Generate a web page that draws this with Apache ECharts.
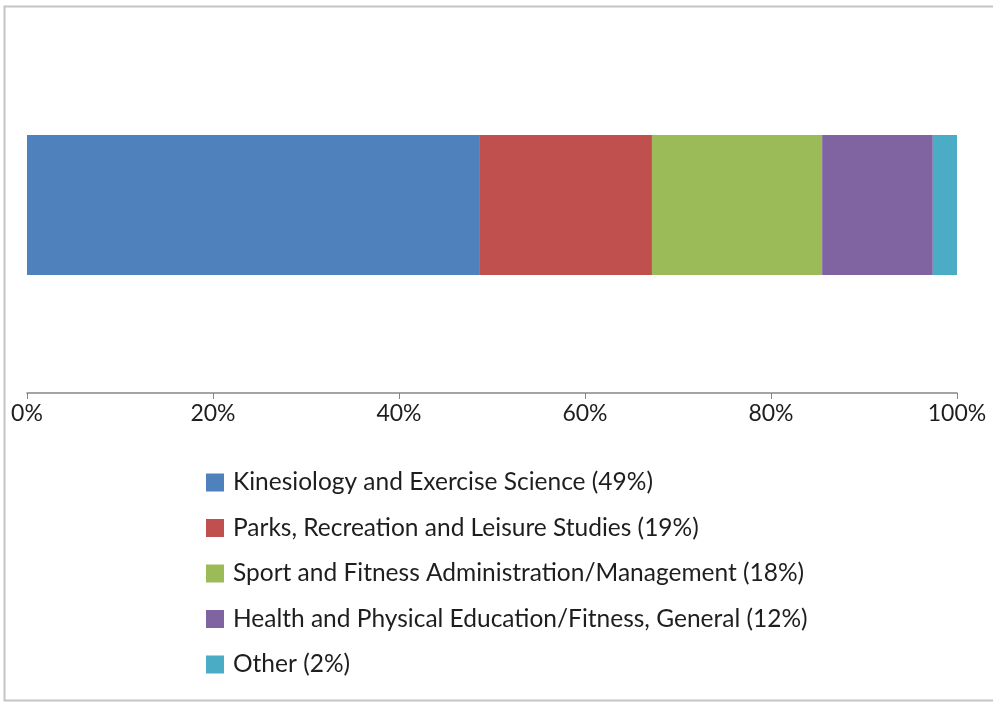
<!DOCTYPE html>
<html>
<head>
<meta charset="utf-8">
<script src="https://cdn.jsdelivr.net/npm/echarts@6/dist/echarts.min.js"></script>
<style>html,body{margin:0;padding:0;background:#fff}#c{width:993px;height:702px}</style>
</head>
<body>
<div id="c"></div>
<script>
const seriesNames = [
  'Kinesiology and Exercise Science (49%)',
  'Parks, Recreation and Leisure Studies (19%)',
  'Sport and Fitness Administration/Management (18%)',
  'Health and Physical Education/Fitness, General (12%)',
  'Other (2%)'
];
const seriesValues = [48.7, 18.5, 18.3, 11.9, 2.6];
const colors = ['#4F81BD', '#C0504D', '#9BBB59', '#8064A2', '#4BACC6'];
const categories = ['Majors'];
const xTicks = [0, 20, 40, 60, 80, 100];

const chart = echarts.init(document.getElementById('c'));
const FONT = 'Lato';
chart.setOption({
  animation: false,
  textStyle: { fontFamily: FONT },
  graphic: [{
    type: 'rect', shape: { x: 4.5, y: 6.5, width: 1000, height: 694 },
    style: { fill: 'none', stroke: '#c4c4c4', lineWidth: 2 }, silent: true, z: -1
  }],
  grid: { left: 27, right: 36, top: 17, bottom: 309, containLabel: false },
  xAxis: {
    type: 'value', min: 0, max: 100, interval: 20,
    axisLine: { show: true, lineStyle: { color: '#868686', width: 1.5 } },
    axisTick: { show: true, length: 6, lineStyle: { color: '#868686' } },
    splitLine: { show: false },
    axisLabel: { formatter: v => xTicks.includes(v) ? v + '%' : '', color: '#1e1e1e', fontSize: 23, margin: 9, fontFamily: FONT }
  },
  yAxis: { type: 'category', data: categories, show: false },
  legend: {
    orient: 'vertical', left: 201, top: 465,
    itemWidth: 18, itemHeight: 18, itemGap: 20.5,
    icon: 'rect',
    textStyle: { fontSize: 24.5, color: '#1e1e1e', fontFamily: FONT, padding: [0, 0, 0, 4] },
    data: seriesNames
  },
  series: seriesNames.map((n, i) => ({
    name: n, type: 'bar', stack: 'total', barWidth: 140,
    itemStyle: { color: colors[i] },
    data: [seriesValues[i]]
  }))
});
</script>
</body>
</html>
